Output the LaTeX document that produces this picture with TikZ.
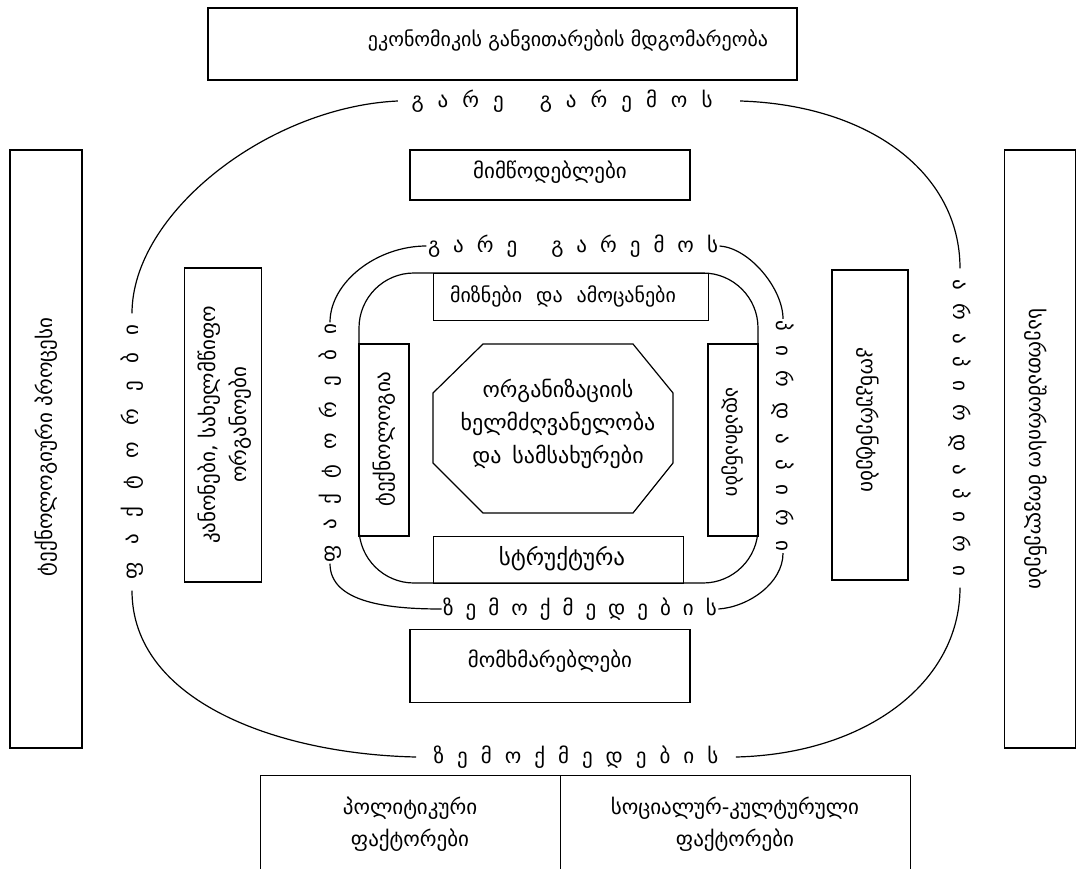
\documentclass[tikz,border=0pt]{standalone}
\usepackage{fontspec}
\setmainfont{DejaVu Sans}
% letter spacing for the ring captions
\newcommand\ltrgap[1]{\spaceskip=#1pt\relax}
\newcommand\fs[2]{\fontsize{#1}{#2}\selectfont}
\tikzset{
  frame/.style={draw,inner sep=0pt,anchor=center},
  txt/.style={inner sep=0pt,align=center,font=\fs{21}{31}},
  ring/.style={inner sep=1pt,font=\fs{21}{24}}
}
\begin{document}
\begin{tikzpicture}[x=1pt,y=-1pt,line width=1.2pt]
\useasboundingbox (0,0) rectangle (1078,869);

% outer environment boxes
\node[frame,minimum width=589,minimum height=72] (econ) at (502.5,44) {};
\node[txt,font=\fs{20}{30}] (econT) at (568,40) {ეკონომიკის განვითარების მდგომარეობა};
\node[frame,rotate=90,minimum width=598,minimum height=72] (tech) at (46,449) {};
\node[txt,rotate=90] (techT) at (46,447) {ტექნოლოგიური პროცესი};
\node[frame,rotate=-90,minimum width=598,minimum height=71] (intl) at (1040,449) {};
\node[txt,rotate=-90] (intlT) at (1036,449) {საერთაშორისო მოვლენები};

% bottom split box (open at the page edge)
\node[frame,minimum width=300,minimum height=110,anchor=north west] (pol) at (260,775) {};
\node[frame,minimum width=350,minimum height=110,anchor=north west] (soc) at (560,775) {};
\node[txt,font=\fs{21}{32}] (polT) at (410,824) {პოლიტიკური\\ფაქტორები};
\node[txt,font=\fs{21}{32}] (socT) at (735,824) {სოციალურ-კულტურული\\ფაქტორები};

% direct environment boxes
\node[frame,minimum width=280,minimum height=50] (sup) at (550,175) {};
\node[txt] (supT) at (550,172) {მიმწოდებლები};
\node[frame,minimum width=280,minimum height=73] (cons) at (550,666) {};
\node[txt] (consT) at (550,661) {მომხმარებლები};
\node[frame,rotate=90,minimum width=314,minimum height=77] (law) at (223,425) {};
\node[txt,rotate=90,font=\fs{21}{31}] (lawT) at (225,425) {კანონები, სახელმწიფო\\ორგანოები};
\node[frame,rotate=-90,minimum width=310,minimum height=76] (comp) at (870,425) {};
\node[txt,rotate=-90] (compT) at (868,420) {კონკურენტები};

% internal environment
\draw[rounded corners=55] (359,273) rectangle (758,583);
\node[frame,minimum width=275,minimum height=47,anchor=north west] (goal) at (433,273) {};
\node[txt,font=\fs{20}{30}] (goalT) at (563,296) {მიზნები\hspace{0.7em}და\hspace{0.7em}ამოცანები};
\node[frame,minimum width=250,minimum height=47,anchor=north west] (struct) at (433,536) {};
\node[txt,font=\fs{23}{30}] (structT) at (562,559) {სტრუქტურა};
\node[frame,rotate=90,minimum width=192,minimum height=50] (itech) at (384,440) {};
\node[txt,rotate=90] (itechT) at (384,439) {ტექნოლოგია};
\node[frame,rotate=-90,minimum width=192,minimum height=50] (people) at (733,440) {};
\node[txt,rotate=-90,font=\fs{20}{30}] (peopleT) at (733,442) {ადამიანები};

% management core
\node[txt,font=\fs{22}{33}] (core) at (558,424) {ორგანიზაციის\\ხელმძღვანელობა\\და\hspace{0.5em}სამსახურები};
\draw (483,344) -- (633,344) -- (673,393) -- (673,463) -- (633,513)
      -- (483,513) -- (433,463) -- (433,393) -- cycle;

% letter-spaced ring captions
\node[ring] (otop) at (562,101) {\ltrgap{14}გ ა რ ე\hspace{36pt}გ ა რ ე მ ო ს};
\node[ring] (obot) at (576,757) {\ltrgap{13}ზ ე მ ო ქ მ ე დ ე ბ ი ს};
\node[ring,rotate=90] (oleft) at (132,452) {\ltrgap{17}ფ ა ქ ტ ო რ ე ბ ი};
\node[ring,rotate=-90] (oright) at (960,428) {\ltrgap{13}ა რ ა პ ი რ დ ა პ ი რ ი};
\node[ring] (itop) at (573,246) {\ltrgap{13}გ ა რ ე\hspace{34pt}გ ა რ ე მ ო ს};
\node[ring] (ibot) at (580,609) {\ltrgap{12}ზ ე მ ო ქ მ ე დ ე ბ ი ს};
\node[ring,rotate=90] (ileft) at (330,443) {\ltrgap{15}ფ ა ქ ტ ო რ ე ბ ი};
\node[ring,rotate=-90] (iright) at (783,436) {\ltrgap{14.5}პ ი რ დ ა პ ი რ ი};

% outer ring arcs, stopping short of the captions
\draw ([xshift=-12pt]otop.west) .. controls +(-130,6) and +(0,-100) .. ([yshift=10pt]oleft.east);
\draw ([yshift=-10pt]oleft.west) .. controls +(0,110) and +(-140,-3) .. ([xshift=-16pt]obot.west);
\draw ([xshift=16pt]obot.east) .. controls +(130,-3) and +(0,95) .. ([yshift=-10pt]oright.east);
\draw ([xshift=26pt]otop.east) .. controls +(130,4) and +(0,-95) .. ([yshift=10pt]oright.west);

% inner ring arcs
\draw (itop.west) .. controls +(-50,0) and +(0,-40) .. (ileft.east);
\draw (ileft.west) .. controls +(0,40) and +(-50,0) .. (ibot.west);
\draw (ibot.east) .. controls +(30,-2) and +(0,30) .. (iright.east);
\draw (itop.east) .. controls +(30,2) and +(0,-30) .. (iright.west);
\end{tikzpicture}
\end{document}
